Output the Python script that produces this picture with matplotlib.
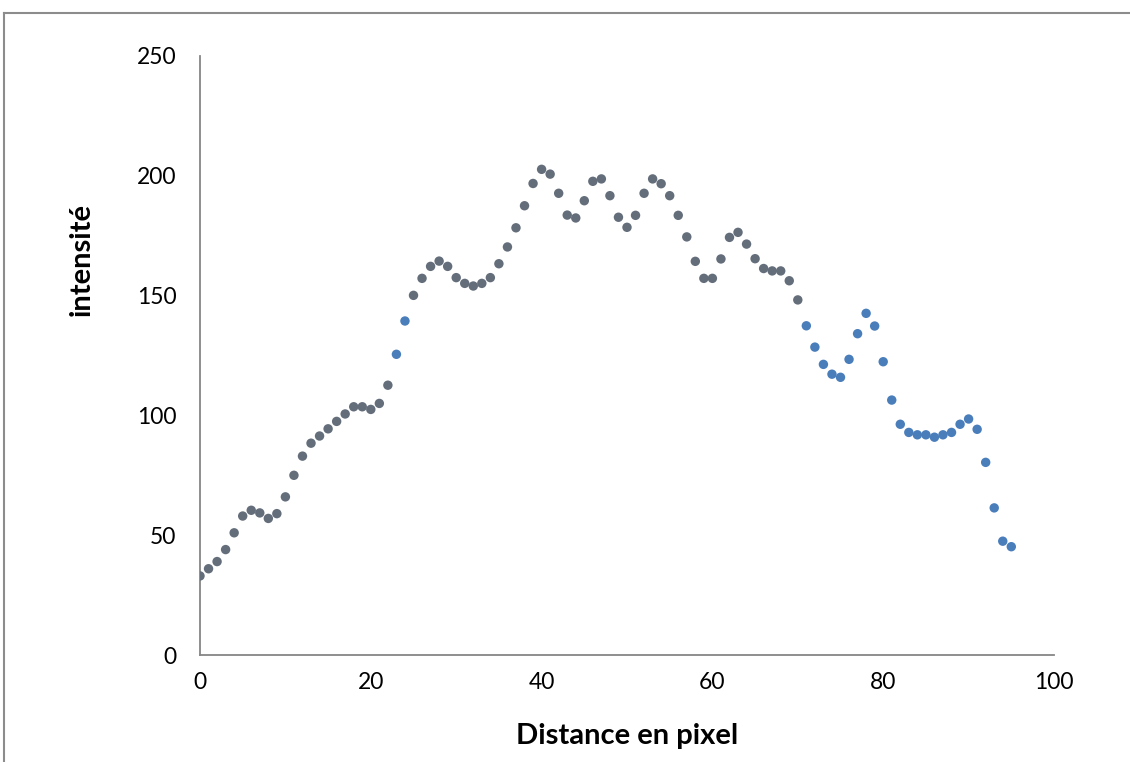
import numpy as np
import matplotlib
matplotlib.use("Agg")
from matplotlib import pyplot as plt
from matplotlib.lines import Line2D

plt.rcParams['font.family'] = ['Lato', 'DejaVu Sans']

# profil d'intensité le long d'une ligne
distance = np.arange(96)
intensite = [33, 36, 39, 44, 51, 58, 60.4, 59.3, 57, 59,
             66, 75, 83, 88.4, 91.4, 94.4, 97.5, 100.6, 103.6, 103.6,
             102.5, 105, 112.6, 125.5, 139.4, 150.1, 157.2, 162.2, 164.4, 162.2,
             157.5, 155.1, 154, 155.1, 157.5, 163.3, 170.3, 178.3, 187.5, 196.8,
             202.7, 200.7, 192.7, 183.6, 182.4, 189.6, 197.7, 198.7, 191.7, 182.7,
             178.5, 183.5, 192.7, 198.7, 196.7, 191.7, 183.5, 174.5, 164.3, 157.2,
             157.2, 165.3, 174.3, 176.4, 171.5, 165.4, 161.3, 160.3, 160.3, 156.2,
             148.2, 137.4, 128.5, 121.3, 117.2, 115.9, 123.4, 134.1, 142.6, 137.3,
             122.4, 106.4, 96.3, 92.9, 91.9, 91.9, 90.9, 91.9, 92.9, 96.3,
             98.5, 94.2, 80.4, 61.4, 47.5, 45.2]

gris = "#646e7b"
bleu = "#4a7ebb"
couleurs = [bleu if (i in (23, 24) or i >= 71) else gris for i in distance]

fig = plt.figure(figsize=(11.3, 7.62), dpi=100)
ax = fig.add_axes([200/1130, 1 - 655/762, 854/1130, 599/762])

ax.scatter(distance, intensite, s=46, c=couleurs, edgecolors="none", zorder=3)

ax.set_xlim(0, 100)
ax.set_ylim(0, 250)
ax.set_xticks([0, 20, 40, 60, 80, 100])
ax.set_yticks([0, 50, 100, 150, 200, 250])
ax.tick_params(length=0, labelsize=16.5, colors="black")
ax.tick_params(axis="y", pad=17)
ax.tick_params(axis="x", pad=12)
for s in ["top", "right"]:
    ax.spines[s].set_visible(False)
for s in ["left", "bottom"]:
    ax.spines[s].set_color("#868686")
    ax.spines[s].set_linewidth(1.3)

ax.set_xlabel("Distance en pixel", fontsize=21, fontweight="bold", labelpad=22)
ax.set_ylabel("intensité", fontsize=21, fontweight="bold", labelpad=30)
ax.yaxis.label.set_y(0.66)

# cadre de la zone de graphique
fig.add_artist(Line2D([4/1130, 1.0], [1 - 13/762, 1 - 13/762], color="#8c8c8c", lw=1.5))
fig.add_artist(Line2D([4/1130, 4/1130], [0.0, 1 - 13/762], color="#8c8c8c", lw=1.5))

fig.savefig("out.png", dpi=100)
